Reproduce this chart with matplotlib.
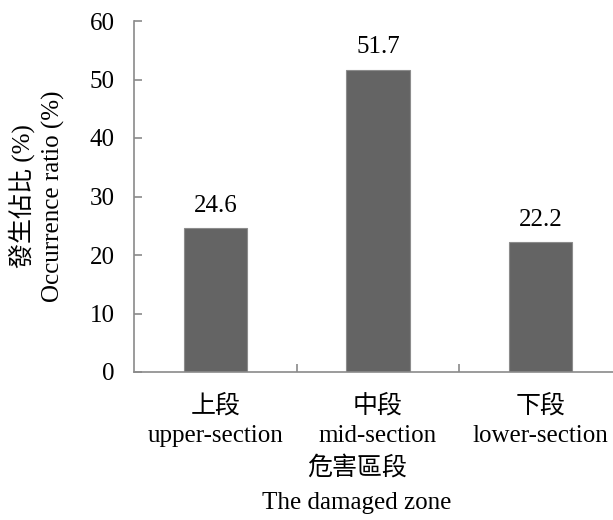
import matplotlib
matplotlib.use("Agg")
import matplotlib.pyplot as plt
from matplotlib.ticker import FixedLocator

plt.rcParams['font.family'] = ['Liberation Serif', 'Noto Sans CJK TC']
plt.rcParams['font.size'] = 18
plt.rcParams['font.weight'] = 'light'

zones_zh = ["上段", "中段", "下段"]
zones_en = ["upper-section", "mid-section", "lower-section"]
ratios = [24.6, 51.7, 22.2]
y_ticks = [0, 10, 20, 30, 40, 50, 60]

axis_color = "#8a8a8a"
bar_color = "#646464"
fs = 18

fig = plt.figure(figsize=(6.13, 5.2), dpi=100)
ax = fig.add_axes([134 / 613, 148 / 520, 488 / 613, 351 / 520])

x = list(range(len(ratios)))
bars = ax.bar(x, ratios, width=0.39, color=bar_color, edgecolor="#8c8c8c", linewidth=0.8, zorder=2)

for xi, v in zip(x, ratios):
    ax.annotate(f"{v:.1f}", (xi, v), xytext=(0, 8), textcoords="offset points",
                ha="center", va="bottom", fontsize=fs)

ax.set_xlim(-0.5, 2.5)
ax.set_ylim(0, 60)
ax.set_yticks(y_ticks)
ax.set_xticks(x)
ax.set_xticklabels([f"{zh}\n{en}" for zh, en in zip(zones_zh, zones_en)], linespacing=1.4)
ax.xaxis.set_minor_locator(FixedLocator([0.5, 1.5, 2.5]))

ax.tick_params(axis="x", which="major", length=0, pad=16, labelsize=fs)
ax.tick_params(axis="x", which="minor", direction="in", length=6, width=1.2, color=axis_color)
ax.tick_params(axis="y", direction="in", length=6, width=1.2, color=axis_color, pad=14, labelsize=fs)

for side in ["top", "right"]:
    ax.spines[side].set_visible(False)
for side in ["left", "bottom"]:
    ax.spines[side].set_color(axis_color)
    ax.spines[side].set_linewidth(1.2)

fig.text(22 / 613, 1 - 196 / 520, "發生佔比 (%)", rotation=90, ha="center", va="center", fontsize=fs)
fig.text(53 / 613, 1 - 196 / 520, "Occurrence ratio (%)", rotation=90, ha="center", va="center", fontsize=fs)
fig.text(357 / 613, 1 - 468 / 520, "危害區段", ha="center", va="center", fontsize=fs)
fig.text(357 / 613, 1 - 503 / 520, "The damaged zone", ha="center", va="center", fontsize=fs)

fig.savefig("out.png", dpi=100)
